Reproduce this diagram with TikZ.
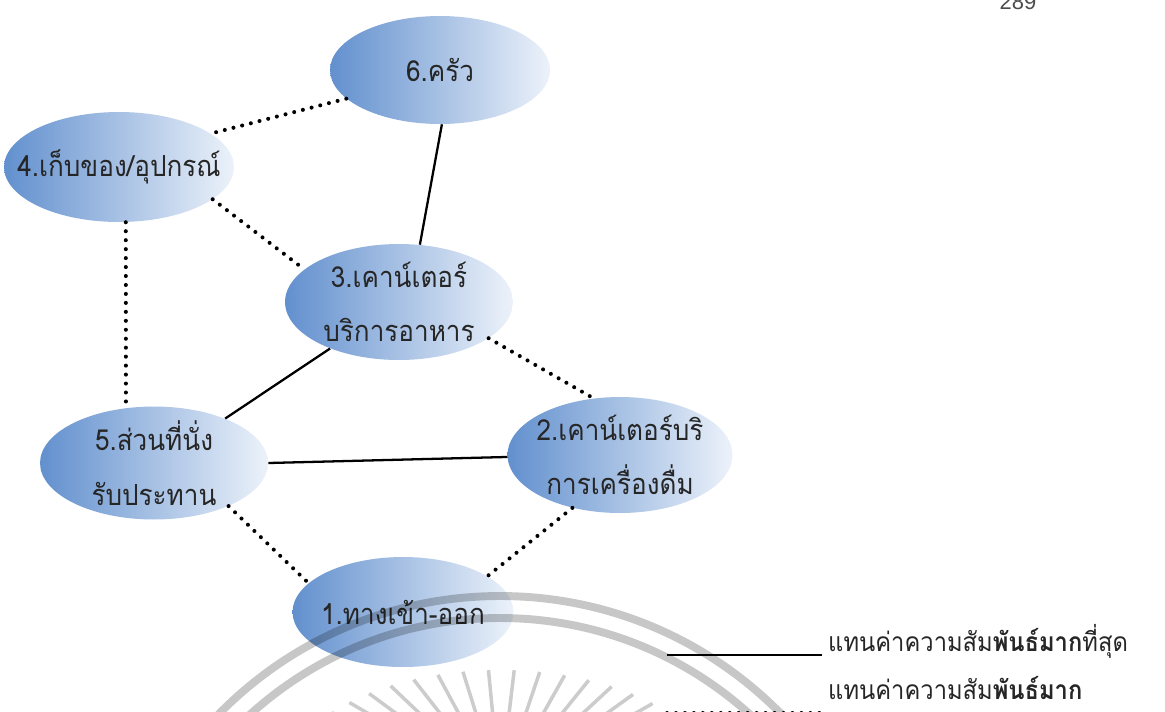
\documentclass[tikz,border=0pt]{standalone}
\usepackage{fontspec}
\newfontfamily\thaifont[Script=Thai, FakeStretch=0.9]{Loma}
\setsansfont{Liberation Sans}
\usetikzlibrary{shapes.geometric,calc}

\definecolor{zoneblue}{RGB}{98,144,206}
\definecolor{zonemid}{RGB}{132,172,222}
\definecolor{zonelight}{RGB}{236,242,250}

\begin{document}
\begin{tikzpicture}[x=0.02cm, y=-0.02cm,
  zone/.style={ellipse, inner sep=0pt, left color=zoneblue, middle color=zonemid, right color=zonelight},
  zonetext/.style={font=\thaifont\fontsize{16.5}{31}\selectfont, align=center, text=black!85},
  legendtext/.style={font=\thaifont\fontsize{15}{18}\selectfont, text=black!85},
  strong/.style={black, line width=1.3pt},
  weak/.style={black, line width=2.3pt, line cap=round, dash pattern=on 0pt off 5.1pt},
  seal/.style={black, opacity=0.22, line width=4.5pt},
  sealray/.style={black, opacity=0.2, line width=2pt}]

  % 1. Page frame
  \useasboundingbox (0,0) rectangle (1165,711);
  \fill[white] (0,0) rectangle (1165,711);
  \clip (0,0) rectangle (1165,711);

  % 2. Zones (ellipses)
  \node[zone, minimum width=4.4cm, minimum height=2.16cm, label={[zonetext]center:6.ครัว}] (kitchen) at (440,70) {};
  \node[zone, minimum width=4.6cm, minimum height=2.2cm, label={[zonetext]center:4.เก็บของ/อุปกรณ์}] (storage) at (119,167) {};
  \node[zone, minimum width=4.56cm, minimum height=2.32cm, label={[zonetext]center:{3.เคาน์เตอร์\\บริการอาหาร}}] (foodbar) at (399,302) {};
  \node[zone, minimum width=4.56cm, minimum height=2.26cm, label={[zonetext]center:{5.ส่วนที่นั่ง\\รับประทาน}}] (seating) at (154,463) {};
  \node[zone, minimum width=4.5cm, minimum height=2.32cm, label={[zonetext]center:{2.เคาน์เตอร์บริ\\การเครื่องดื่ม}}] (drinkbar) at (620,455) {};
  \node[zone, minimum width=4.42cm, minimum height=2.2cm, label={[zonetext]center:1.ทางเข้า-ออก}] (entrance) at (403,612) {};

  % 3. Relations: solid = strongest, dotted = strong
  \draw[strong] (kitchen.272) -- (foodbar.70);
  \draw[strong] (foodbar.214) -- (seating.32);
  \draw[strong] (seating.east) -- (drinkbar.181);
  \draw[weak] (kitchen.197) -- (storage.20);
  \draw[weak] (storage.-19) -- (foodbar.161);
  \draw[weak] (storage.-83) -- (seating.117);
  \draw[weak] (foodbar.-22) -- (drinkbar.115);
  \draw[weak] (seating.-30) -- (entrance.163);
  \draw[weak] (drinkbar.228) -- (entrance.23);

  % 4. Legend
  \node[legendtext, anchor=west] (keystrong) at (822,641) {แทนค่าความสัม\textbf{พันธ์มาก}ที่สุด};
  \node[legendtext, anchor=west] (keymid) at (822,688) {แทนค่าความสัม\textbf{พันธ์มาก}};
  \coordinate (keystrongstart) at (667,655);
  \coordinate (keymidstart) at (667,713);
  \draw[strong] (keystrongstart) -- (keystrongstart -| keystrong.west);
  \draw[weak] (keymidstart) -- (keymidstart -| keymid.west);

  % 5. Page number
  \node[font=\sffamily\fontsize{12.5}{14}\selectfont, text=black!70, anchor=base] (pageno) at (1018,9) {289};

  % 6. Watermark seal (faint, on top)
  \coordinate (sealcentre) at (500,990);
  \draw[seal] (sealcentre) circle[radius=372];
  \draw[seal] (sealcentre) circle[radius=394];
  \coordinate (raycentre) at (500,790);
  \foreach \t in {26,32.7,...,154}
    \draw[sealray] ($(raycentre)+(-\t:110 and 60)$) -- ($(raycentre)+(-\t:220 and 120)$);

\end{tikzpicture}
\end{document}
